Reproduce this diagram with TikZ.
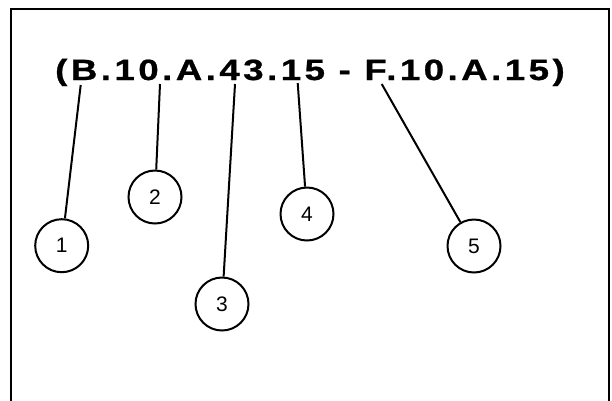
\documentclass[tikz,border=0pt]{standalone}
\usepackage{fontspec}
\setmainfont{Liberation Sans}
\newfontfamily\codefont[LetterSpace=9.5,FakeBold=0.8]{Liberation Sans Bold}
\tikzset{callout/.style={circle,draw,line width=2pt,minimum size=53pt,inner sep=0pt,font=\fontsize{21}{21}\selectfont},leader/.style={line width=2pt}}

\begin{document}
\begin{tikzpicture}[x=1pt,y=-1pt]
    \useasboundingbox (0,0) rectangle (612,400);
    \draw [line width=2.8pt] (11,410) -- (11,9) -- (609,9) -- (609,410);

    \node [anchor=base, inner sep=0pt, font=\codefont\fontsize{29.3}{30}\selectfont] (code) at (310,80) {\scalebox{1.25}[1]{(B.10.A.43.15 - F.10.A.15)}};

    % where each leader leaves the code
    \coordinate (tip1) at (80.7,85);
    \coordinate (tip2) at (160,84);
    \coordinate (tip3) at (235,84);
    \coordinate (tip4) at (297.7,83);
    \coordinate (tip5) at (381.7,84);

    \node [callout] (num1) at (61.7,245.7) {1};
    \node [callout] (num2) at (155,197) {2};
    \node [callout] (num3) at (222,304) {3};
    \node [callout] (num4) at (307,214) {4};
    \node [callout] (num5) at (474,246) {5};

    \foreach \n in {1,...,5}
        \draw [leader] (tip\n) -- (num\n);
\end{tikzpicture}
\end{document}
